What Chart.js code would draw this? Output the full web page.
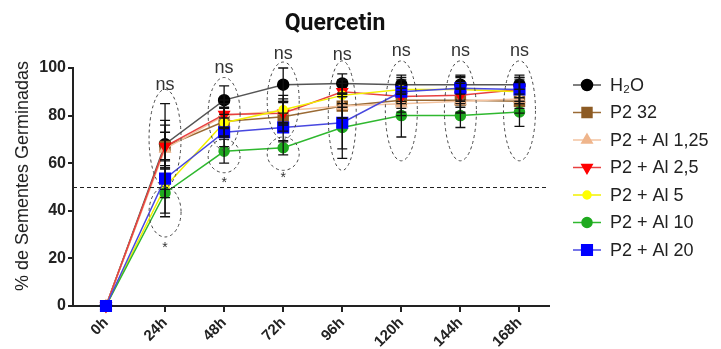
<!DOCTYPE html>
<html>
<head>
<meta charset="utf-8">
<script src="https://cdn.jsdelivr.net/npm/chart.js@4.4.1/dist/chart.umd.min.js"></script>
<style>
  html, body { margin: 0; padding: 0; background: #fff; }
  #wrap { width: 721px; height: 349px; }
</style>
</head>
<body>
<div id="wrap"><canvas id="germChart" width="721" height="349"></canvas></div>
<script>
// Time points (hours) and tick labels
const hours = [0, 24, 48, 72, 96, 120, 144, 168];
const tickHours = [0, 24, 48, 72, 96, 120, 144, 168];

// Germination means (%)
const h2o   = [0, 68, 86.5, 93, 93.5, 93, 93, 93];
const p232  = [0, 67, 77.5, 79.5, 84, 86.5, 86.5, 86];
const al125 = [0, 66, 80, 82, 84, 85, 86, 87];
const al25  = [0, 67, 80.5, 81, 90, 88, 88.5, 91];
const al5   = [0, 50, 77, 82.5, 88.5, 91, 91, 90];
const al10  = [0, 47.5, 65, 66.5, 75, 80, 80, 81.5];
const al20  = [0, 53.5, 73, 75, 77, 90, 91.5, 91];

// Error bar half-lengths
const h2oErr   = [0, 10, 6, 7, 4, 4, 4, 4];
const p232Err  = [0, 9, 6, 6, 5, 5, 5, 5];
const al125Err = [0, 7, 5, 5, 5, 5, 5, 4];
const al25Err  = [0, 18, 6, 5, 5, 5, 5, 5];
const al5Err   = [0, 11, 6, 6, 5, 5, 5, 5];
const al10Err  = [0, 10, 5, 3, 13, 9, 5, 6];
const al20Err  = [0, 8, 6, 6, 11, 5, 5, 5];

// Significance annotations
const nsHours = [24, 48, 72, 96, 120, 144, 168];
const nsValues = [93, 100, 106, 105.5, 107, 107, 107];
const starHours = [24, 48, 72];
const starValues = [25.5, 53, 55];
const ellipseHours  = [24, 24, 48, 48, 72, 72, 96, 120, 144, 168];
const ellipseTop    = [91, 50, 96, 70, 102.5, 71, 103, 103, 103, 103];
const ellipseBottom = [50, 29, 65.5, 56, 70, 57, 57, 61, 61, 61];
const threshold = 50;

const legendLabels = ['H\u2082O', 'P2 32', 'P2 + Al 1,25', 'P2 + Al 2,5', 'P2 + Al 5', 'P2 + Al 10', 'P2 + Al 20'];
const yTitle = '% de Sementes Germinadas';

const toXY = arr => arr.map((v, i) => ({ x: hours[i], y: v }));

function series(idx, values, errs, line, point, style, rotation, radius) {
    return {
        label: legendLabels[idx],
        data: toXY(values),
        errs: errs,
        order: 10 - idx, // later series drawn on top
        borderColor: line,
        backgroundColor: point,
        pointBackgroundColor: point,
        pointBorderColor: point,
        pointStyle: style,
        rotation: rotation,
        pointRadius: radius,
        borderWidth: 1.5,
        tension: 0,
        clip: false
    };
}

const datasets = [
    series(0, h2o, h2oErr, '#555555', '#000000', 'circle', 0, 5.5),
    series(1, p232, p232Err, '#9a6a34', '#8d5b24', 'rect', 0, 7),
    series(2, al125, al125Err, '#f3c3a0', '#efb58c', 'triangle', 0, 6),
    series(3, al25, al25Err, '#e84040', '#ff0000', 'triangle', 180, 6),
    series(4, al5, al5Err, '#f2f000', '#ffff00', 'circle', 0, 4),
    series(5, al10, al10Err, '#2fb82f', '#1faa1f', 'circle', 0, 5),
    series(6, al20, al20Err, '#4848e0', '#0000ff', 'rect', 0, 7.5)
];

const extras = {
    id: 'extras',
    afterDatasetsDraw(chart) {
        const c = chart.ctx, xs = chart.scales.x, ys = chart.scales.y;
        c.save();
        c.strokeStyle = '#111';
        c.lineWidth = 1.3;
        chart.data.datasets.forEach(ds => {
            ds.data.forEach((p, i) => {
                const e = ds.errs[i];
                if (!e) return;
                const x = xs.getPixelForValue(p.x);
                const y1 = ys.getPixelForValue(p.y + e);
                const y2 = ys.getPixelForValue(p.y - e);
                c.beginPath();
                c.moveTo(x, y1); c.lineTo(x, y2);
                c.moveTo(x - 5, y1); c.lineTo(x + 5, y1);
                c.moveTo(x - 5, y2); c.lineTo(x + 5, y2);
                c.stroke();
            });
        });
        c.restore();
    },
    afterDraw(chart) {
        const c = chart.ctx, xs = chart.scales.x, ys = chart.scales.y, a = chart.chartArea;
        c.save();
        // threshold line
        c.strokeStyle = '#222';
        c.lineWidth = 1;
        c.setLineDash([4, 3]);
        const ty = Math.round(ys.getPixelForValue(threshold)) + 0.5;
        c.beginPath(); c.moveTo(a.left, ty); c.lineTo(a.right, ty); c.stroke();

        // dashed ellipses
        c.strokeStyle = '#444';
        c.setLineDash([3, 3]);
        ellipseHours.forEach((h, i) => {
            const cx = xs.getPixelForValue(h);
            const top = ys.getPixelForValue(ellipseTop[i]);
            const bot = ys.getPixelForValue(ellipseBottom[i]);
            const rx = h === 96 ? 14 : 16;
            c.beginPath();
            c.ellipse(cx, (top + bot) / 2, rx, (bot - top) / 2, 0, 0, Math.PI * 2);
            c.stroke();
        });
        c.setLineDash([]);

        // ns / * labels
        c.fillStyle = '#333';
        c.textAlign = 'center';
        c.textBaseline = 'middle';
        c.font = '18px "Liberation Sans", Arial, sans-serif';
        nsHours.forEach((h, i) => {
            c.fillText('ns', xs.getPixelForValue(h), ys.getPixelForValue(nsValues[i]));
        });
        c.font = '14px "Liberation Sans", Arial, sans-serif';
        starHours.forEach((h, i) => {
            c.fillText('*', xs.getPixelForValue(h), ys.getPixelForValue(starValues[i]) + 3);
        });

        // title
        c.fillStyle = '#111';
        c.font = 'bold 23px Roboto, sans-serif';
        c.fillText('Quercetin', 335, 24);

        // y axis title
        c.save();
        c.translate(23, 176);
        c.rotate(-Math.PI / 2);
        c.fillStyle = '#222';
        c.font = '18px "Liberation Sans", Arial, sans-serif';
        c.fillText(yTitle, 0, 0);
        c.restore();

        // legend
        c.textAlign = 'left';
        c.font = '18px "Liberation Sans", Arial, sans-serif';
        chart.data.datasets.forEach((ds, i) => {
            const y = 85 + i * 27.5;
            c.strokeStyle = ds.borderColor;
            c.lineWidth = 1.5;
            c.beginPath(); c.moveTo(573, y); c.lineTo(601, y); c.stroke();
            c.fillStyle = ds.pointBackgroundColor;
            c.strokeStyle = ds.pointBorderColor;
            Chart.helpers.drawPoint(c, { pointStyle: ds.pointStyle, radius: ds.pointRadius, rotation: ds.rotation, borderWidth: 1 }, 587, y);
            c.fillStyle = '#222';
            c.fillText(ds.label, 610, y + 1);
        });
        c.restore();
    }
};

const chart = new Chart(document.getElementById('germChart'), {
    type: 'line',
    data: { datasets: datasets },
    options: {
        responsive: false,
        animation: false,
        layout: { padding: { top: 68, right: 172, left: 0, bottom: 0 } },
        plugins: { legend: { display: false }, tooltip: { enabled: false } },
        scales: {
            x: {
                type: 'linear',
                min: -13.4,
                max: 180,
                afterBuildTicks: s => { s.ticks = tickHours.map(v => ({ value: v })); },
                afterFit: s => { s.height = 43; },
                grid: { drawOnChartArea: false, drawTicks: true, tickLength: 6, color: '#222', lineWidth: 2 },
                border: { display: true, color: '#222', width: 2 },
                ticks: {
                    callback: v => v + 'h',
                    minRotation: 45,
                    maxRotation: 45,
                    padding: 2,
                    color: '#222',
                    font: { family: '"Liberation Sans", Arial, sans-serif', size: 15, weight: 'bold' }
                }
            },
            y: {
                min: 0,
                max: 100,
                afterFit: s => { s.width = 73; },
                grid: { drawOnChartArea: false, drawTicks: true, tickLength: 5, color: '#222', lineWidth: 2 },
                border: { display: true, color: '#222', width: 2 },
                ticks: {
                    stepSize: 20,
                    padding: 2,
                    color: '#222',
                    font: { family: '"Liberation Sans", Arial, sans-serif', size: 16, weight: 'bold' }
                },
                title: { display: false }
            }
        }
    },
    plugins: [extras]
});
</script>
</body>
</html>
